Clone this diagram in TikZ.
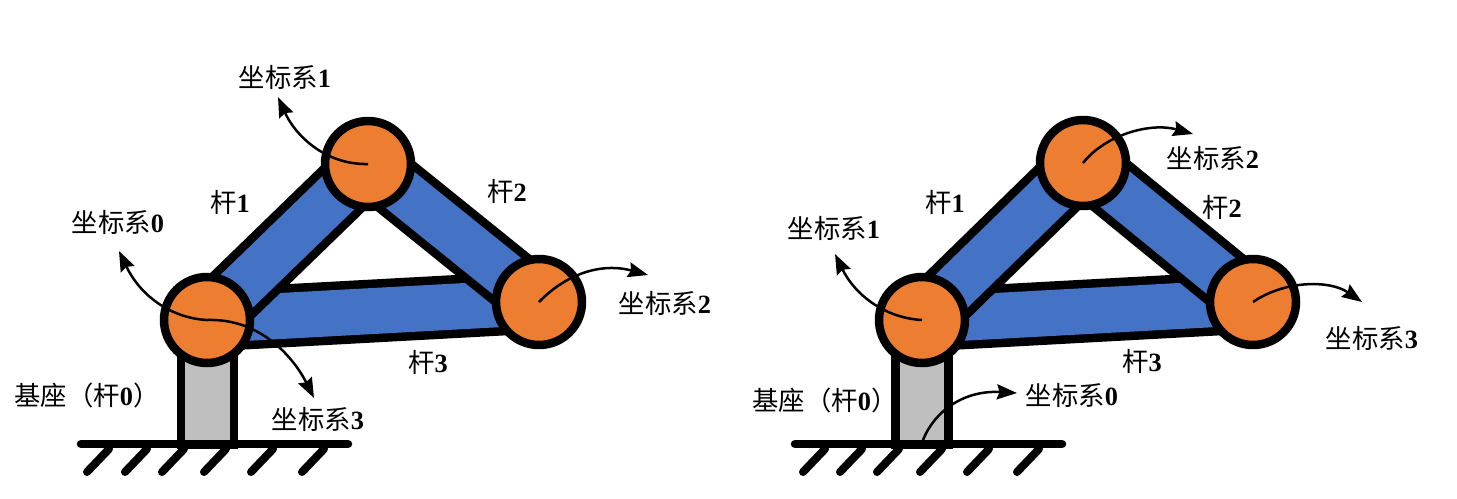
\documentclass[tikz,border=0pt]{standalone}
\usepackage{fontspec}
\setmainfont{Liberation Serif}
\newfontfamily\cjk{Noto Sans CJK SC}
\usetikzlibrary{arrows.meta, backgrounds}
\definecolor{JointOrange}{HTML}{ED7D31}
\definecolor{BarBlue}{HTML}{4472C4}
\definecolor{BaseGray}{HTML}{BFBFBF}

\begin{document}
\begin{tikzpicture}[
        x=0.02cm, y=-0.02cm,
        joint/.style={circle, draw=black, fill=JointOrange, line width=0.17cm,
                      minimum size=1.72cm, inner sep=0pt},
        bar/.style={draw=black, line width=0.17cm, double=BarBlue, double distance=0.92cm},
        basebox/.style={draw=black, fill=BaseGray, line width=0.17cm,
                        minimum width=1.06cm, minimum height=2.3cm, inner sep=0pt},
        ground/.style={line width=0.17cm, line cap=round},
        hatch/.style={line width=0.16cm, line cap=round},
        axis/.style={-{Stealth[length=0.4cm, width=0.3cm, inset=0.05cm]}, line width=0.05cm},
        lab/.style={font=\fontsize{15}{16}\selectfont\bfseries, inner sep=0pt},
      ]
        \useasboundingbox (0,0) rectangle (1457,498);

        % left arm
        \node[joint] (la) at (207,320) {};
        \node[joint] (lb) at (368,164) {};
        \node[joint] (lc) at (539,302) {};
        \begin{pgfonlayer}{background}
          \draw[bar] (la.center) -- (lc.center);
          \draw[bar] (la.center) -- (lb.center);
          \draw[bar] (lb.center) -- (lc.center);
          \node[basebox] (lbase) at (207.5,387) {};
        \end{pgfonlayer}
        \draw[ground] (81,444) -- (348,444);
        \draw[hatch] (109,449) -- (87,472) (147,449) -- (125,472) (184,449) -- (162,472)
                     (226,449) -- (204,472) (273,449) -- (251,472) (324,449) -- (302,472);
        \coordinate (ltip0) at (119,251);
        \coordinate (ltip1) at (278,97);
        \coordinate (ltip2) at (648,275);
        \coordinate (ltip3) at (314,398);
        \draw[axis] (la.center) .. controls (170,318) and (140,295) .. (ltip0);
        \draw[axis] (la.center) .. controls (262,318) and (295,360) .. (ltip3);
        \draw[axis] (lb.center) .. controls (325,165) and (295,135) .. (ltip1);
        \draw[axis] (lc.center) .. controls (565,275) and (600,262) .. (ltip2);
        \node[lab] (lf1) at (285,77)  {{\mdseries\cjk 坐标系}1};
        \node[lab] (lf0) at (118,222) {{\mdseries\cjk 坐标系}0};
        \node[lab] (lf2) at (665,303) {{\mdseries\cjk 坐标系}2};
        \node[lab] (lf3) at (318,419) {{\mdseries\cjk 坐标系}3};
        \node[lab] (lr1) at (230,202) {{\mdseries\cjk 杆}1};
        \node[lab] (lr2) at (507,191) {{\mdseries\cjk 杆}2};
        \node[lab] (lr3) at (428,362) {{\mdseries\cjk 杆}3};
        \node[lab] (lr0) at (87,395)  {{\mdseries\cjk 基座（杆}0{\mdseries\cjk ）}};

        % right arm
        \node[joint] (ra) at (922,320) {};
        \node[joint] (rb) at (1083,163) {};
        \node[joint] (rc) at (1253,302) {};
        \begin{pgfonlayer}{background}
          \draw[bar] (ra.center) -- (rc.center);
          \draw[bar] (ra.center) -- (rb.center);
          \draw[bar] (rb.center) -- (rc.center);
          \node[basebox] (rbase) at (922,387) {};
        \end{pgfonlayer}
        \draw[ground] (795,444) -- (1062,444);
        \draw[hatch] (825,449) -- (803,472) (862,449) -- (840,472) (899,449) -- (877,472)
                     (942,449) -- (920,472) (989,449) -- (967,472) (1039,449) -- (1017,472);
        \coordinate (rtip0) at (1017,393);
        \coordinate (rtip1) at (835,254);
        \coordinate (rtip2) at (1193,134);
        \coordinate (rtip3) at (1362,302);
        \coordinate (rfoot) at (923,440);
        \draw[axis] (ra.center) .. controls (885,318) and (855,295) .. (rtip1);
        \draw[axis] (rb.center) .. controls (1105,135) and (1150,122) .. (rtip2);
        \draw[axis] (rc.center) .. controls (1285,280) and (1330,280) .. (rtip3);
        \draw[axis] (rfoot) .. controls (935,410) and (965,390) .. (rtip0);
        \node[lab] (rf1) at (834,228)  {{\mdseries\cjk 坐标系}1};
        \node[lab] (rf2) at (1213,158) {{\mdseries\cjk 坐标系}2};
        \node[lab] (rf3) at (1372,338) {{\mdseries\cjk 坐标系}3};
        \node[lab] (rf0) at (1072,395) {{\mdseries\cjk 坐标系}0};
        \node[lab] (rr1) at (945,202)  {{\mdseries\cjk 杆}1};
        \node[lab] (rr2) at (1222,207) {{\mdseries\cjk 杆}2};
        \node[lab] (rr3) at (1142,361) {{\mdseries\cjk 杆}3};
        \node[lab] (rr0) at (825,400)  {{\mdseries\cjk 基座（杆}0{\mdseries\cjk ）}};
      \end{tikzpicture}
\end{document}
